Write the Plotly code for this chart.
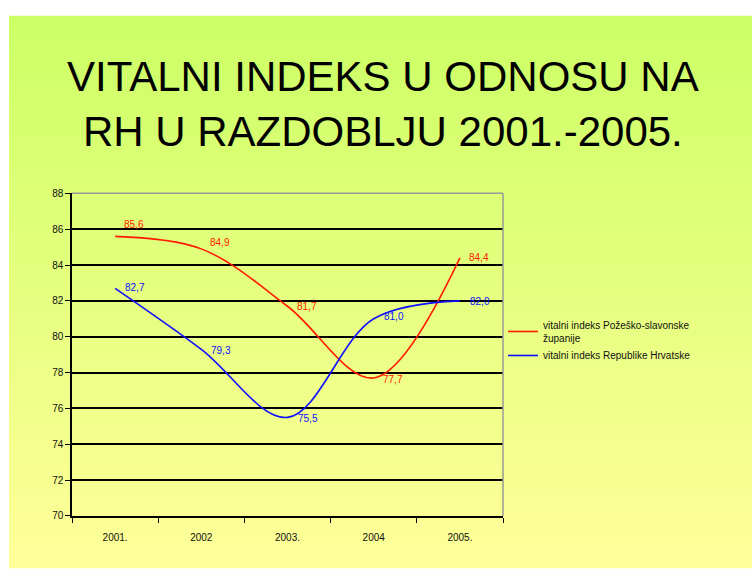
import plotly.graph_objects as go

years = ["2001.", "2002", "2003.", "2004", "2005."]
pozega = [85.6, 84.9, 81.7, 77.7, 84.4]
hrvatska = [82.7, 79.3, 75.5, 81.0, 82.0]
name_pozega = "vitalni indeks Požeško-slavonske<br>županije"
name_hr = "vitalni indeks Republike Hrvatske"
y_ticks = list(range(70, 90, 2))

W, H = 752, 572

def px(x):
    return x / W

def py(y):
    return 1 - y / H

def fmt(v):
    return f"{v:.1f}".replace(".", ",")

RED = "#ff1a00"
BLUE = "#1010ff"

fig = go.Figure()
fig.add_trace(go.Scatter(
    x=years, y=pozega, name=name_pozega, mode="lines",
    line=dict(color=RED, width=1.6, shape="spline", smoothing=1.0),
))
fig.add_trace(go.Scatter(
    x=years, y=hrvatska, name=name_hr, mode="lines",
    line=dict(color=BLUE, width=1.6, shape="spline", smoothing=1.0),
))

annotations = []
red_yshift = [12, 6, 0, -2, 0]
blue_yshift = [1, -1, -1, 2, -1]
for i in range(len(years)):
    annotations.append(dict(x=i, y=pozega[i], xref="x", yref="y", text=fmt(pozega[i]),
                            showarrow=False, xanchor="left", yanchor="middle",
                            xshift=7, yshift=red_yshift[i],
                            font=dict(color=RED, size=10)))
    annotations.append(dict(x=i, y=hrvatska[i], xref="x", yref="y", text=fmt(hrvatska[i]),
                            showarrow=False, xanchor="left", yanchor="middle",
                            xshift=8, yshift=blue_yshift[i],
                            font=dict(color=BLUE, size=10)))

annotations.append(dict(
    text="VITALNI INDEKS U ODNOSU NA<br>RH U RAZDOBLJU 2001.-2005.",
    xref="paper", yref="paper", x=px(383), y=py(101),
    xanchor="center", yanchor="middle", showarrow=False,
    font=dict(size=42, family="Liberation Sans", color="#000000"),
))

# background gradient (green top -> pale yellow bottom)
shapes = []
n = 60
top = (0xcc, 0xff, 0x66)
bot = (0xff, 0xff, 0x99)
x0 = px(9)
ytop = py(11)
for i in range(n):
    t = i / (n - 1)
    c = tuple(int(round(top[k] + (bot[k] - top[k]) * t)) for k in range(3))
    ya = ytop - ytop * i / n
    yb = ytop - ytop * (i + 1) / n
    shapes.append(dict(type="rect", xref="paper", yref="paper", x0=x0, x1=1.01,
                       y0=yb - 0.004, y1=ya, fillcolor="rgb(%d,%d,%d)" % c,
                       line=dict(width=0), layer="below"))

pl, pr = px(72), px(503)
pb, pt = py(521), py(192)
shapes.append(dict(type="line", xref="paper", yref="paper", x0=pr, x1=pr, y0=pb, y1=pt,
                   line=dict(color="#9a9a9a", width=1.5)))
shapes.append(dict(type="line", xref="paper", yref="paper", x0=pl, x1=pr, y0=pt, y1=pt,
                   line=dict(color="#9a9a9a", width=1.5)))

fig.update_layout(
    width=W, height=H,
    margin=dict(l=0, r=0, t=0, b=0),
    paper_bgcolor="white",
    plot_bgcolor="rgba(0,0,0,0)",
    shapes=shapes,
    annotations=annotations,
    font=dict(family="Liberation Sans", color="#000000"),
    xaxis=dict(domain=[pl, pr], type="category", showgrid=False,
               showline=True, linecolor="black", linewidth=1.5,
               ticks="outside", tickson="boundaries", ticklen=5, tickcolor="black",
               ticklabelstandoff=11,
               tickfont=dict(size=10, color="#111111"), range=[-0.5, 4.5]),
    yaxis=dict(domain=[pb, pt], range=[70, 88], tickvals=y_ticks,
               showgrid=True, gridcolor="black", gridwidth=1.5,
               showline=True, linecolor="black", linewidth=1.5,
               ticks="outside", ticklen=5, tickcolor="black",
               tickfont=dict(size=10, color="#111111"), zeroline=False),
    legend=dict(x=px(503), y=py(313), xanchor="left", yanchor="top",
                bgcolor="rgba(0,0,0,0)", font=dict(size=10, color="#111111"),
                itemwidth=30, tracegroupgap=4),
)

fig.write_html("out.html", config={"displayModeBar": False},
               post_script="document.body.style.margin='0';document.body.style.overflow='hidden';")
